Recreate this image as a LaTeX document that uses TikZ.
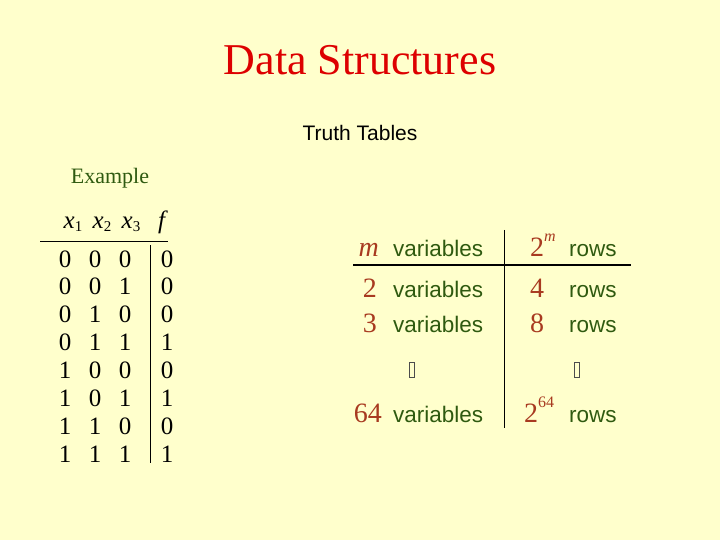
\documentclass[tikz,border=0pt]{standalone}
\usepackage{fontspec}
\newfontfamily\tms{Liberation Serif}
\newfontfamily\ars{Liberation Sans}
\definecolor{bg}{HTML}{FFFFCC}
\definecolor{ttl}{HTML}{DD0000}
\definecolor{grn}{HTML}{2F5A10}
\definecolor{brn}{HTML}{A83A20}
\newcommand{\sbx}[1]{\raisebox{-0.25ex}{\fontsize{15}{15}\selectfont #1}}
\newcommand{\spx}[1]{\raisebox{1.1ex}{\fontsize{16}{16}\selectfont #1}}
\begin{document}
\begin{tikzpicture}[x=1pt,y=-1pt,
  dig/.style={font=\tms\fontsize{25}{25}\selectfont, inner sep=0pt, anchor=base},
  num/.style={font=\tms\fontsize{28}{28}\selectfont, text=brn, inner sep=0pt},
  wrd/.style={font=\ars\fontsize{22.5}{22.5}\selectfont, text=grn, inner sep=0pt},
  gap/.style={draw=black!70, line width=0.6pt, minimum width=5pt, minimum height=15pt, inner sep=0pt}]
\fill[bg] (0,0) rectangle (720,540);
\useasboundingbox (0,0) rectangle (720,540);
\node (title) at (360,60) {\tms\fontsize{44}{44}\selectfont\color{ttl}Data Structures};
\node (tt) at (360,133) {\ars\fontsize{21}{21}\selectfont Truth Tables};
\node (ex) at (110,178) {\tms\fontsize{22}{22}\selectfont\color{grn}Example};
% left table header
\node[dig] (h1) at (73,229) {\textit{x}\sbx{1}};
\node[dig] (h2) at (102,229) {\textit{x}\sbx{2}};
\node[dig] (h3) at (131,229) {\textit{x}\sbx{3}};
\node[dig] (hf) at (163,229) {\textit{f}};
\coordinate (la) at (40,241); \coordinate (lb) at (168,241);
\draw[line width=0.8pt] (la) -- (lb);
\coordinate (va) at (150,245); \coordinate (vb) at (150,463);
\draw[line width=0.8pt] (va) -- (vb);
\foreach \a/\b/\c/\f [count=\i from 0] in {0/0/0/0,0/0/1/0,0/1/0/0,0/1/1/1,1/0/0/0,1/0/1/1,1/1/0/0,1/1/1/1}{
  \node[dig] (ra\i) at (65,267+\i*27.9) {\a};
  \node[dig] (rb\i) at (95,267+\i*27.9) {\b};
  \node[dig] (rc\i) at (125,267+\i*27.9) {\c};
  \node[dig] (rf\i) at (167,267+\i*27.9) {\f};
}
% right table
\coordinate (rv1) at (504,230); \coordinate (rv2) at (504,428);
\draw[line width=1pt] (rv1) -- (rv2);
\coordinate (rh1) at (353,265); \coordinate (rh2) at (631,265);
\draw[line width=1.2pt] (rh1) -- (rh2);
\node[num, anchor=base east] (m) at (379,256) {\textit{m}};
\node[wrd, anchor=base west] (mv) at (393,256) {variables};
\node[num, anchor=base west] (tm) at (530,256) {2\spx{\textit{m}}};
\node[wrd, anchor=base west] (tr) at (569,256) {rows};
\node[num, anchor=base east] (n2) at (377,297) {2};
\node[wrd, anchor=base west] (v2) at (393,297) {variables};
\node[num, anchor=base west] (n4) at (530,297) {4};
\node[wrd, anchor=base west] (r4) at (569,297) {rows};
\node[num, anchor=base east] (n3) at (377,332) {3};
\node[wrd, anchor=base west] (v3) at (393,332) {variables};
\node[num, anchor=base west] (n8) at (530,332) {8};
\node[wrd, anchor=base west] (r8) at (569,332) {rows};
\node[gap] (g1) at (412,370) {};
\node[gap] (g2) at (577,370) {};
\node[num, anchor=base east] (n64) at (382,422) {64};
\node[wrd, anchor=base west] (v64) at (393,422) {variables};
\node[num, anchor=base west] (t64) at (524,422) {2\spx{64}};
\node[wrd, anchor=base west] (r64) at (569,422) {rows};
\end{tikzpicture}
\end{document}
